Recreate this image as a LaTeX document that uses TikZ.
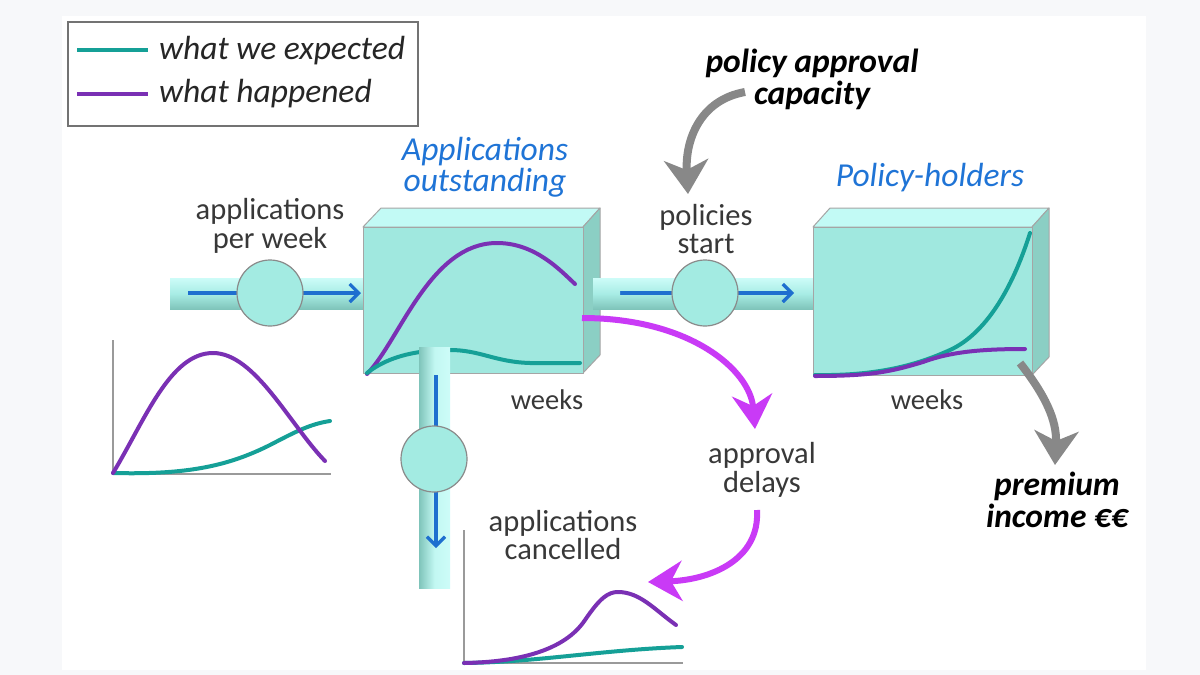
\documentclass[tikz,border=0pt]{standalone}
\usepackage{fontspec}
\setmainfont{Carlito}
\usetikzlibrary{arrows.meta}
\definecolor{bgout}{HTML}{F7F8FA}
\definecolor{tealc}{HTML}{15A097}
\definecolor{purplec}{HTML}{7A30B4}
\definecolor{magc}{HTML}{C93AF6}
\definecolor{greyarr}{HTML}{888888}
\definecolor{bluetxt}{HTML}{1F74D6}
\definecolor{bluearr}{HTML}{1E6FCF}
\definecolor{txtgrey}{HTML}{383838}
\definecolor{front}{HTML}{A0E8DF}
\definecolor{topf}{HTML}{C2FAF5}
\definecolor{sidef}{HTML}{8BCFC4}
\definecolor{edgec}{HTML}{A5A5A5}
\definecolor{pipeTop}{HTML}{CDFCF8}
\definecolor{pipeMid}{HTML}{A8EDE5}
\definecolor{pipeBot}{HTML}{7FC4BA}
\definecolor{circf}{HTML}{A3EBE2}
\definecolor{circd}{HTML}{8A8A8A}
\definecolor{axisc}{HTML}{9A9A9A}
\begin{document}
\begin{tikzpicture}[x=1pt,y=-1pt,
  lbl/.style={font=\fontsize{30.5}{28.5}\selectfont, text=txtgrey, align=center, inner sep=0pt},
  stocklbl/.style={font=\fontsize{33.5}{31}\selectfont\itshape, text=bluetxt, align=center, inner sep=0pt},
  boldlbl/.style={font=\fontsize{33.5}{32}\selectfont\bfseries\itshape, text=black, align=center, inner sep=0pt},
  legtxt/.style={font=\fontsize{33.5}{30}\selectfont\itshape, text=black!85, anchor=west, inner sep=0pt},
  tcurve/.style={draw=tealc, line width=4pt, line cap=round},
  pcurve/.style={draw=purplec, line width=4pt, line cap=round},
  axisline/.style={draw=axisc, line width=1.5pt},
  valve/.style={circle, minimum size=66pt, inner sep=0pt, fill=circf, draw=circd, line width=1.2pt},
  flowarrow/.style={draw=bluearr, line width=3.2pt, -{Straight Barb[length=9pt,width=18pt,line width=3.2pt]}},
  magarrow/.style={draw=magc, line width=6pt, -{Stealth[length=34pt,width=40pt,inset=11pt]}},
  greyarrow/.style={draw=greyarr, line width=8pt, -{Stealth[length=34pt,width=44pt,inset=10pt]}},
  facestyle/.style={draw=edgec, line width=1pt, line join=round}
]
\useasboundingbox (0,0) rectangle (1200,675);
\fill[bgout] (0,0) rectangle (1200,675);
\fill[white] (62,16) rectangle (1146,670);

% legend
\draw[draw=black!55, line width=2pt] (68,22) rectangle (418,126);
\coordinate (lg1a) at (77,50); \coordinate (lg1b) at (148,50);
\coordinate (lg2a) at (77,94); \coordinate (lg2b) at (148,94);
\draw[tcurve, line cap=butt] (lg1a) -- (lg1b);
\draw[pcurve, line cap=butt] (lg2a) -- (lg2b);
\node[legtxt] (leg1) at (159,51) {what we expected};
\node[legtxt] (leg2) at (159,94) {what happened};

% inflow pipe
\shade[top color=pipeTop, bottom color=pipeBot, middle color=pipeMid] (170,278) rectangle (364,309);
\coordinate (fa1s) at (188,293); \coordinate (fa1e) at (361,293);
\draw[flowarrow] (fa1s) -- (fa1e);
\node[valve] (v1) at (270,293) {};

% middle pipe (drawn under box 2)
\shade[top color=pipeTop, bottom color=pipeBot, middle color=pipeMid] (593,278) rectangle (815,309);
\coordinate (fa2s) at (620,293); \coordinate (fa2e) at (794,293);
\draw[flowarrow] (fa2s) -- (fa2e);
\node[valve] (v2) at (705,293) {};

% box 1
\fill[topf, facestyle] (363,227) -- (381,208) -- (600,208) -- (583,227) -- cycle;
\fill[sidef, facestyle] (583,227) -- (600,208) -- (600,355) -- (583,373) -- cycle;
\fill[front, facestyle] (363,227) rectangle (583,373);
\draw[pcurve] (367,374) .. controls (400,340) and (430,243) .. (497,243) .. controls (535,243) and (560,270) .. (575,284);
\draw[tcurve] (367,373) .. controls (390,355) and (420,350) .. (450,350) .. controls (480,350) and (495,362) .. (530,363) -- (580,363);
% redraw pipe start over side face
\shade[top color=pipeTop, bottom color=pipeBot, middle color=pipeMid] (593,278) rectangle (620,309);

% vertical outflow pipe
\shade[left color=pipeBot, right color=pipeTop, middle color=pipeTop!70!pipeMid] (419,347) rectangle (450,588);
\coordinate (fa3s) at (436,375); \coordinate (fa3e) at (436,548);
\draw[flowarrow] (fa3s) -- (fa3e);
\node[valve] (v3) at (434,459) {};

% box 2
\fill[topf, facestyle] (813,227) -- (830,208) -- (1049,208) -- (1032,227) -- cycle;
\fill[sidef, facestyle] (1032,227) -- (1049,208) -- (1049,357) -- (1032,375) -- cycle;
\fill[front, facestyle] (813,227) rectangle (1032,375);
\draw[tcurve] (815,375) .. controls (875,376) and (915,366) .. (950,350) .. controls (985,334) and (1012,290) .. (1030,233);
\draw[pcurve] (815,376) .. controls (870,376) and (890,372) .. (923,362) .. controls (950,352) and (980,349) .. (1025,349);

% left graph
\draw[axisline] (113,340) -- (113,474) -- (331,474);
\draw[tcurve] (113,473) .. controls (190,475) and (230,465) .. (270,445) .. controls (295,432) and (310,424) .. (330,421);
\draw[pcurve] (113,473) .. controls (145,420) and (170,353) .. (213,353) .. controls (255,353) and (290,425) .. (325,461);

% bottom graph
\draw[axisline] (464,530) -- (464,663) -- (683,663);
\draw[tcurve] (464,663) .. controls (540,662) and (600,650) .. (682,647);
\draw[pcurve] (464,663) .. controls (520,662) and (565,650) .. (585,620) .. controls (600,598) and (608,592) .. (618,592) .. controls (640,592) and (655,610) .. (676,625);

% labels
\node[lbl] (t_apw) at (270,226) {applications\\per week};
\node[lbl] (t_ps) at (706,229) {policies\\start};
\node[stocklbl] (t_ao) at (485,167) {Applications\\outstanding};
\node[stocklbl] (t_ph) at (930,178) {Policy-holders};
\node[boldlbl] (t_pac) at (812,79) {policy approval\\capacity};
\node[boldlbl] (t_pi) at (1057,500) {premium\\income €€};
\node[lbl] (t_ad) at (762,470) {approval\\delays};
\node[lbl] (t_ac) at (563,535) {applications\\cancelled};
\node[lbl, font=\fontsize{28.5}{29}\selectfont] (t_wk1) at (547,400) {weeks};
\node[lbl, font=\fontsize{28.5}{29}\selectfont] (t_wk2) at (927,400) {weeks};

% influence arrows
\coordinate (g1s) at (745,92); \coordinate (g1e) at (688,194);
\draw[greyarrow] (g1s) .. controls (700,100) and (685,140) .. (g1e);
\coordinate (g2s) at (1020,363); \coordinate (g2e) at (1055,465);
\draw[greyarrow] (g2s) .. controls (1045,395) and (1057,420) .. (g2e);
\coordinate (m1s) at (582,318); \coordinate (m1e) at (755,429);
\draw[magarrow] (m1s) .. controls (690,318) and (750,370) .. (m1e);
\coordinate (m2s) at (757,510); \coordinate (m2e) at (648,582);
\draw[magarrow] (m2s) .. controls (760,560) and (710,580) .. (m2e);
\end{tikzpicture}
\end{document}
